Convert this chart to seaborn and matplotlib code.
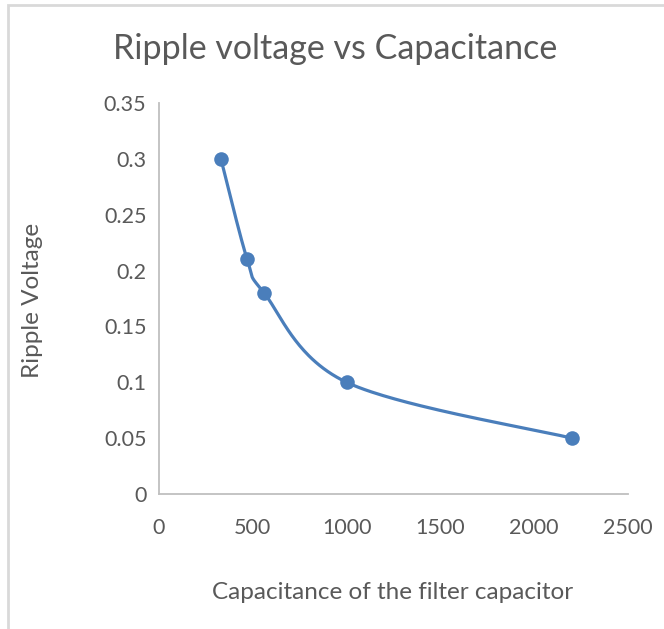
import numpy as np
import pandas as pd
import matplotlib
matplotlib.use("Agg")
import matplotlib.pyplot as plt
import seaborn as sns
from matplotlib.patches import Rectangle

capacitance = [330, 470, 560, 1000, 2200]
ripple = [0.3, 0.21, 0.18, 0.1, 0.05]
x_ticks = [0, 500, 1000, 1500, 2000, 2500]
y_ticks = [0, 0.05, 0.1, 0.15, 0.2, 0.25, 0.3, 0.35]
y_labels = ["0", "0.05", "0.1", "0.15", "0.2", "0.25", "0.3", "0.35"]

sns.set_theme(style="white")
plt.rcParams['font.family'] = ['Lato', 'DejaVu Sans']

BLUE = "#4A7EBB"
GRAY_TXT = "#595959"

def smooth(xs, ys, n=60):
    # Excel-like smoothed line: Catmull-Rom style Bezier with tension
    xs = np.asarray(xs, float); ys = np.asarray(ys, float)
    P = np.column_stack([xs, ys])
    out = []
    t = np.linspace(0, 1, n)
    k = 1.0 / 6.0
    for i in range(len(P) - 1):
        p0 = P[i - 1] if i > 0 else P[i]
        p1 = P[i]; p2 = P[i + 1]
        p3 = P[i + 2] if i + 2 < len(P) else P[i + 1]
        c1 = p1 + (p2 - p0) * k
        c2 = p2 - (p3 - p1) * k
        seg = ((1 - t)[:, None] ** 3 * p1 + 3 * ((1 - t) ** 2 * t)[:, None] * c1
               + 3 * ((1 - t) * t ** 2)[:, None] * c2 + (t ** 3)[:, None] * p2)
        out.append(seg)
    S = np.vstack(out)
    return S[:, 0], S[:, 1]

W, H = 664, 629
fig = plt.figure(figsize=(W / 100, H / 100), dpi=100)
ax = fig.add_axes([159 / W, 1 - 494 / H, (628 - 159) / W, (494 - 103) / H])

sx, sy = smooth(capacitance, ripple)
curve = pd.DataFrame({"x": sx, "y": sy})
pts = pd.DataFrame({"Capacitance": capacitance, "Ripple": ripple})
sns.lineplot(data=curve, x="x", y="y", ax=ax, color=BLUE, linewidth=2.3, sort=False)
sns.scatterplot(data=pts, x="Capacitance", y="Ripple", ax=ax, color=BLUE, s=110,
                edgecolor=BLUE, linewidth=0, zorder=5)

ax.set_xlim(0, 2500)
ax.set_ylim(0, 0.35)
ax.set_xticks(x_ticks)
ax.set_xticklabels([str(v) for v in x_ticks])
ax.set_yticks(y_ticks)
ax.set_yticklabels(y_labels)
ax.tick_params(axis="both", length=0, labelsize=15.5, colors=GRAY_TXT)
ax.tick_params(axis="x", pad=17)
ax.tick_params(axis="y", pad=9)
for s in ["top", "right"]:
    ax.spines[s].set_visible(False)
for s in ["left", "bottom"]:
    ax.spines[s].set_color("#BFBFBF")
    ax.spines[s].set_linewidth(1.3)
ax.set_xlabel("Capacitance of the filter capacitor", fontsize=17.5, color=GRAY_TXT, va="baseline")
ax.set_ylabel("Ripple Voltage", fontsize=17.5, color=GRAY_TXT, va="center")
ax.xaxis.set_label_coords(393 / W, 1 - 599 / H, transform=fig.transFigure)
ax.yaxis.set_label_coords(33 / W, 1 - 300 / H, transform=fig.transFigure)
ax.set_title("Ripple voltage vs Capacitance", fontsize=24.5, color=GRAY_TXT,
             x=(335 - 159) / 469, y=(629 - 59 - 135) / 391, va="baseline", pad=0)

fig.patches.append(Rectangle((7.5 / W, -0.1), 1.2, 1 - 4.5 / H + 0.1, transform=fig.transFigure,
                             fill=False, edgecolor="#D9D9D9", linewidth=2))

fig.savefig("out.png", dpi=100)
